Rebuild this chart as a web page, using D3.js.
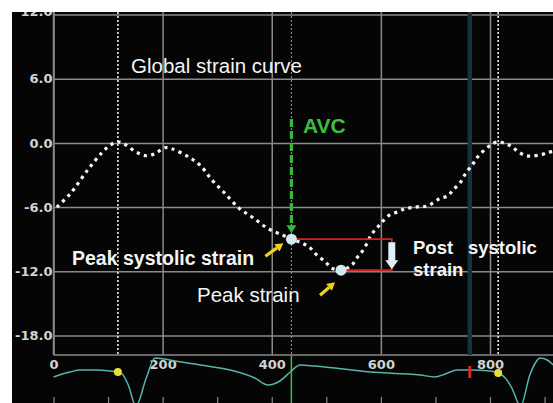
<!DOCTYPE html>
<html>
<head>
<meta charset="utf-8">
<script src="https://cdn.jsdelivr.net/npm/d3@7"></script>
<style>
  html, body { margin: 0; padding: 0; background: #ffffff; }
  svg { display: block; }
  text { font-family: "Liberation Sans", Arial, sans-serif; }
</style>
</head>
<body>
<svg id="chart" width="553" height="403"></svg>
<script>
// Global longitudinal strain (%) over time (ms)
const strainTime = [6,30,63,89,104,118,133,153,170,186,204,217,247,269,291,314,340,366,393,419,
  436,457,470,483,498,510,527,547,556,565,575,582,593,602,617,631,644,657,672,685,
  708,723,732,745,756,769,776,787,800,813,828,840,851,866,879,895,906,916];
const strainValue = [-6.0,-4.8,-2.5,-0.9,-0.2,0.1,-0.2,-0.9,-1.2,-1.0,-0.45,-0.55,-1.3,-2.1,-3.5,-4.7,-6.1,-7.0,-8.0,-8.6,
  -9.0,-9.4,-9.8,-10.5,-11.1,-11.7,-11.9,-11.4,-10.75,-10.2,-9.35,-8.6,-7.95,-7.4,-6.7,-6.45,-6.15,-6.05,-5.95,-5.9,
  -5.2,-4.95,-4.4,-3.75,-2.8,-1.95,-1.4,-0.8,-0.25,0.1,-0.05,-0.35,-0.8,-1.2,-1.2,-1.1,-0.9,-0.8];

// ECG trace (relative amplitude)
const ecgTime = [0,16,30,49,76,104,118,126,137,151,170,186,204,223,269,324,369,393,415,434,
  452,479,580,672,699,718,740,763,800,815,828,840,856,873,883,892,905,916];
const ecgValue = [-0.25,-0.1,0,0.1,0.1,0.05,0,-0.1,-0.65,-1.7,-0.3,0.7,0.65,0.55,0.35,0.1,-0.3,-0.65,-0.45,0,
  0.35,0.3,0,-0.15,-0.25,-0.1,0.1,0.1,0.05,-0.05,-0.3,-0.8,-1.7,-0.15,0.45,0.7,0.6,0.35];

// Axis ticks
const yTicks = [12, 6, 0, -6, -12, -18];
const xTicks = [0, 200, 400, 600, 800];
const xMinorTicks = [0, 100, 200, 300, 400, 500, 600, 700, 800, 900];

// Events (ms)
const qrsMarkers = [118, 815];       // ECG reference points
const avcTime = 436;                 // aortic valve closure
const endMarkerTime = 763;           // red cursor on ECG
const peakSystolic = { t: 436, v: -9.0 };
const peakStrain = { t: 527, v: -11.9 };
const postSystolicBracketTime = 620;

const svg = d3.select("#chart");
const W = 553, H = 403;
const panel = { left: 12, top: 12 };
const plotLeft = 53.5, plotBottom = 355;

const x = d3.scaleLinear().domain([0, 800]).range([53.5, 490]);
const y = d3.scaleLinear().domain([12, -18]).range([14.5, 335.5]);
const ye = d3.scaleLinear().domain([1, -1]).range([352, 392]);

svg.append("defs").append("clipPath").attr("id", "panelClip")
  .append("rect").attr("x", panel.left).attr("y", panel.top)
  .attr("width", W - panel.left).attr("height", H - panel.top);

const root = svg.append("g").attr("clip-path", "url(#panelClip)");
root.append("rect").attr("x", panel.left).attr("y", panel.top)
  .attr("width", W - panel.left).attr("height", H - panel.top).attr("fill", "#050505");

const gridColor = "#8a8a8a";

// Horizontal grid + strain labels
const yAxis = d3.axisLeft(y).tickValues(yTicks)
  .tickSize(-(W - plotLeft)).tickPadding(1)
  .tickFormat(d => d.toFixed(1));
const gy = root.append("g").attr("transform", `translate(${plotLeft},0)`).call(yAxis);
gy.select(".domain").remove();
gy.selectAll(".tick line").attr("stroke", gridColor).attr("stroke-width", 1.5);
gy.selectAll(".tick text")
  .attr("fill", "#d2d2d2").attr("font-size", 13).attr("font-weight", "bold")
  .attr("dy", d => d === 12 ? "0.1em" : "0.32em")
  .style("font-family", "'DejaVu Sans', sans-serif");

// Vertical grid + time labels in the ECG strip
const xAxis = d3.axisBottom(x).tickValues(xTicks)
  .tickSize(-(plotBottom - panel.top)).tickPadding(5)
  .tickFormat(d3.format("d"));
const gx = root.append("g").attr("transform", `translate(0,${plotBottom})`).call(xAxis);
gx.select(".domain").remove();
gx.selectAll(".tick line").attr("stroke", gridColor).attr("stroke-width", 1.5);
gx.selectAll(".tick text")
  .attr("fill", "#d2d2d2").attr("font-size", 13).attr("font-weight", "bold")
  .style("font-family", "'DejaVu Sans', sans-serif");

// Plot border: left axis and bottom edge
root.append("line").attr("x1", plotLeft).attr("x2", plotLeft)
  .attr("y1", panel.top).attr("y2", plotBottom)
  .attr("stroke", gridColor).attr("stroke-width", 1.5);
root.append("line").attr("x1", plotLeft).attr("x2", W)
  .attr("y1", plotBottom).attr("y2", plotBottom)
  .attr("stroke", gridColor).attr("stroke-width", 1.5);

// Minor ticks along the bottom of the ECG strip
const gm = root.append("g").attr("transform", `translate(0,${H})`)
  .call(d3.axisTop(x).tickValues(xMinorTicks).tickSize(6).tickFormat(""));
gm.select(".domain").remove();
gm.selectAll(".tick line").attr("stroke", gridColor).attr("stroke-width", 1.2);

// End-of-cycle cursor band
root.append("line")
  .attr("x1", x(endMarkerTime)).attr("x2", x(endMarkerTime))
  .attr("y1", panel.top).attr("y2", plotBottom)
  .attr("stroke", "#19303d").attr("stroke-width", 4.5);

// Event markers (dotted verticals)
qrsMarkers.forEach(t => {
  root.append("line")
    .attr("x1", x(t)).attr("x2", x(t)).attr("y1", panel.top).attr("y2", plotBottom)
    .attr("stroke", "#e6e6e6").attr("stroke-width", 1.6).attr("stroke-dasharray", "2 2");
});
root.append("line")
  .attr("x1", x(avcTime)).attr("x2", x(avcTime)).attr("y1", panel.top).attr("y2", plotBottom)
  .attr("stroke", "#9a9a9a").attr("stroke-width", 1).attr("stroke-dasharray", "2 2");
root.append("line")
  .attr("x1", x(avcTime)).attr("x2", x(avcTime)).attr("y1", plotBottom).attr("y2", H)
  .attr("stroke", "#3fbf3f").attr("stroke-width", 1.5);

// ECG trace
const ecgData = ecgTime.map((t, i) => ({ t, v: ecgValue[i] }));
root.append("path").datum(ecgData)
  .attr("d", d3.line().x(d => x(d.t)).y(d => ye(d.v)).curve(d3.curveMonotoneX))
  .attr("fill", "none").attr("stroke", "#58b3aa").attr("stroke-width", 1.5);
qrsMarkers.forEach(t => {
  const i = ecgTime.indexOf(t);
  root.append("circle").attr("cx", x(t)).attr("cy", ye(ecgValue[i])).attr("r", 4)
    .attr("fill", "#e6e03a");
});
root.append("line")
  .attr("x1", x(endMarkerTime)).attr("x2", x(endMarkerTime))
  .attr("y1", 366).attr("y2", 378)
  .attr("stroke", "#e02424").attr("stroke-width", 3);

// Global strain curve (dotted)
const strainData = strainTime.map((t, i) => ({ t, v: strainValue[i] }));
root.append("path").datum(strainData)
  .attr("d", d3.line().x(d => x(d.t)).y(d => y(d.v)).curve(d3.curveCatmullRom))
  .attr("fill", "none").attr("stroke", "#f4f4f4").attr("stroke-width", 3.2)
  .attr("stroke-dasharray", "3.2 4.3");

// Post-systolic bracket
const red = "#d42222";
const ps = { x: x(peakSystolic.t), y: y(peakSystolic.v) };
const pk = { x: x(peakStrain.t), y: y(peakStrain.v) };
const bx = x(postSystolicBracketTime);
root.append("path")
  .attr("d", `M${ps.x},${ps.y}H${bx}V${pk.y}H${pk.x}`)
  .attr("fill", "none").attr("stroke", red).attr("stroke-width", 1.8);

// Light down arrow inside bracket
const arrowW = 7, headW = 13, headH = 9;
root.append("path")
  .attr("d", `M${bx - arrowW/2},${ps.y + 3}H${bx + arrowW/2}V${pk.y - headH - 1}` +
             `H${bx + headW/2}L${bx},${pk.y - 1}L${bx - headW/2},${pk.y - headH - 1}H${bx - arrowW/2}Z`)
  .attr("fill", "#dcf0f8");

// AVC arrow (green dashed)
root.append("line")
  .attr("x1", ps.x).attr("x2", ps.x).attr("y1", 119).attr("y2", ps.y - 12)
  .attr("stroke", "#38b838").attr("stroke-width", 3.2).attr("stroke-dasharray", "8 4");
root.append("path")
  .attr("d", `M${ps.x - 5},${ps.y - 14}L${ps.x + 5},${ps.y - 14}L${ps.x},${ps.y - 6}Z`)
  .attr("fill", "#38b838");

// Key points
[ps, pk].forEach(p => {
  root.append("circle").attr("cx", p.x).attr("cy", p.y).attr("r", 5.5)
    .attr("fill", "#d2ebf3");
});

// Yellow pointer arrows
function pointer(x1, y1, x2, y2) {
  const a = Math.atan2(y2 - y1, x2 - x1);
  const hl = 8, hw = 4.5;
  const bxp = x2 - hl * Math.cos(a), byp = y2 - hl * Math.sin(a);
  root.append("line").attr("x1", x1).attr("y1", y1).attr("x2", bxp).attr("y2", byp)
    .attr("stroke", "#f0d21e").attr("stroke-width", 3.2);
  root.append("path")
    .attr("d", `M${x2},${y2}L${bxp + hw * Math.sin(a)},${byp - hw * Math.cos(a)}L${bxp - hw * Math.sin(a)},${byp + hw * Math.cos(a)}Z`)
    .attr("fill", "#f0d21e");
}
pointer(ps.x - 26, ps.y + 17, ps.x - 8, ps.y + 4);
pointer(pk.x - 21, pk.y + 25, pk.x - 6, pk.y + 12);

// Labels
function label(txt, lx, ly, size, weight, color) {
  root.append("text").attr("x", lx).attr("y", ly).text(txt)
    .attr("font-size", size).attr("font-weight", weight).attr("fill", color);
}
label("Global strain curve", 131, 73, 20.5, "normal", "#f4f4f4");
label("AVC", 303, 133, 21, "bold", "#3dbf3d");
label("Peak systolic strain", 72, 265, 19.5, "bold", "#f4f4f4");
label("Peak strain", 197, 302, 20.5, "normal", "#f4f4f4");
label("Post", 413, 254, 18.5, "bold", "#f4f4f4");
label("systolic", 468, 254, 18.5, "bold", "#f4f4f4");
label("strain", 413, 276, 18.5, "bold", "#f4f4f4");
</script>
</body>
</html>
